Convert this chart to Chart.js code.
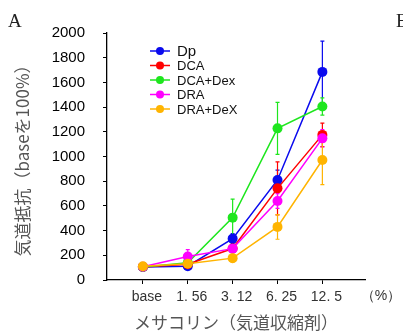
<!DOCTYPE html>
<html>
<head>
<meta charset="utf-8">
<script src="https://cdn.jsdelivr.net/npm/chart.js@4/dist/chart.umd.min.js"></script>
<style>
  html, body { margin: 0; padding: 0; background: #fff; }
  #wrap { width: 403px; height: 331px; position: relative; }
</style>
</head>
<body>
<div id="wrap"><canvas id="myChart"></canvas></div>
<script>
// x categories (methacholine %)
var doses = ["base", "1. 56", "3. 12", "6. 25", "12. 5"];
var seriesNames = ["Dp", "DCA", "DCA+Dex", "DRA", "DRA+DeX"];
var seriesColors = ["#0a0aee", "#ff0000", "#1ee61e", "#ff00ff", "#ffb400"];

// airway resistance (base = 100%)
var dpValues = [105, 112, 335, 810, 1685];
var dcaValues = [105, 128, 255, 742, 1175];
var dcaDexValues = [105, 140, 505, 1228, 1405];
var draValues = [108, 191, 254, 640, 1147];
var draDexValues = [112, 132, 177, 430, 972];

// error bar half lengths
var dpErr = [10, 15, 40, 80, 250];
var dcaErr = [10, 15, 30, 215, 95];
var dcaDexErr = [10, 20, 150, 210, 70];
var draErr = [15, 55, 30, 60, 70];
var draDexErr = [15, 15, 30, 100, 200];

var yTicks = [0, 200, 400, 600, 800, 1000, 1200, 1400, 1600, 1800, 2000];

var allValues = [dpValues, dcaValues, dcaDexValues, draValues, draDexValues];
var allErrs = [dpErr, dcaErr, dcaDexErr, draErr, draDexErr];

function toPoints(vals) {
    return vals.map(function (v, i) { return { x: i, y: v }; });
}

var datasets = [];
for (var i = 0; i < seriesNames.length; i++) {
    datasets.push({
        label: seriesNames[i],
        data: toPoints(allValues[i]),
        errors: allErrs[i],
        borderColor: seriesColors[i],
        backgroundColor: seriesColors[i],
        borderWidth: 1.5,
        pointRadius: 5,
        pointBorderWidth: 0,
        pointHoverRadius: 5,
        tension: 0,
        order: seriesNames.length - i
    });
}

// vertical error bars, behind the lines
var errorBars = {
    id: 'errorBars',
    beforeDatasetsDraw: function (chart) {
        var ctx = chart.ctx;
        var xs = chart.scales.x, ys = chart.scales.y;
        ctx.save();
        chart.data.datasets.forEach(function (ds) {
            ctx.strokeStyle = ds.borderColor;
            ctx.lineWidth = 1.2;
            ds.data.forEach(function (p, j) {
                var e = ds.errors[j];
                var px = xs.getPixelForValue(p.x);
                var top = ys.getPixelForValue(p.y + e);
                var bot = ys.getPixelForValue(p.y - e);
                ctx.beginPath();
                ctx.moveTo(px, top); ctx.lineTo(px, bot);
                ctx.moveTo(px - 2, top); ctx.lineTo(px + 2, top);
                ctx.moveTo(px - 2, bot); ctx.lineTo(px + 2, bot);
                ctx.stroke();
            });
        });
        ctx.restore();
    }
};

// legend inside plot + panel letters + unit
var extras = {
    id: 'extras',
    afterDraw: function (chart) {
        var ctx = chart.ctx;
        ctx.save();
        var lx = 150, ly = 51, step = 14.5;
        chart.data.datasets.forEach(function (ds, k) {
            var y = ly + k * step;
            ctx.strokeStyle = ds.borderColor;
            ctx.fillStyle = ds.borderColor;
            ctx.lineWidth = 1.5;
            ctx.beginPath();
            ctx.moveTo(lx, y); ctx.lineTo(lx + 20, y);
            ctx.stroke();
            ctx.beginPath();
            ctx.arc(lx + 10, y, 4, 0, Math.PI * 2);
            ctx.fill();
            ctx.fillStyle = '#111';
            ctx.font = (k === 0 ? '15px' : '13px') + ' "Liberation Sans", Arial, sans-serif';
            ctx.textBaseline = 'middle';
            ctx.textAlign = 'left';
            ctx.fillText(ds.label, lx + 27, y + 1);
        });
        ctx.fillStyle = '#222';
        ctx.font = '19px "Liberation Serif", serif';
        ctx.textBaseline = 'middle';
        ctx.fillText('A', 8, 22);
        ctx.fillText('E', 396, 22);
        ctx.fillStyle = '#333';
        ctx.font = '14px "Liberation Sans", Arial, sans-serif';
        ctx.textAlign = 'center';
        ctx.fillText('（%）', 381, 296);
        ctx.restore();
    }
};

new Chart("myChart", {
    type: "line",
    data: { datasets: datasets },
    plugins: [errorBars, extras],
    options: {
        responsive: true,
        maintainAspectRatio: false,
        animation: false,
        layout: { padding: { top: 33, right: 38, left: 0, bottom: 0 } },
        plugins: {
            legend: { display: false },
            tooltip: { enabled: false }
        },
        scales: {
            x: {
                type: 'linear',
                min: -0.8,
                max: 4.95,
                afterFit: function (scale) { scale.height = 51; },
                afterBuildTicks: function (scale) {
                    scale.ticks = doses.map(function (d, i) { return { value: i }; });
                },
                ticks: {
                    padding: 5,
                    labelOffset: 4,
                    color: '#333',
                    font: { size: 14, family: '"Liberation Sans", Arial, sans-serif' },
                    maxRotation: 0,
                    callback: function (v) { return doses[v]; }
                },
                grid: { drawOnChartArea: false, tickLength: 4, color: '#000' },
                border: { color: '#000', width: 1.3 },
                title: {
                    display: true,
                    text: 'メサコリン（気道収縮剤）',
                    color: '#555',
                    font: { size: 17, family: '"Noto Sans CJK JP", sans-serif', lineHeight: 1 },
                    padding: 0
                }
            },
            y: {
                min: 0,
                max: 2000,
                afterFit: function (scale) { scale.width = 107; },
                afterBuildTicks: function (scale) {
                    var t = [];
                    for (var v = 0; v <= 2000; v += 100) t.push({ value: v });
                    scale.ticks = t;
                },
                ticks: {
                    padding: 18,
                    color: '#000',
                    font: { size: 15, family: '"Liberation Sans", Arial, sans-serif' },
                    callback: function (v) { return yTicks.indexOf(v) >= 0 ? v : ''; }
                },
                grid: { drawOnChartArea: false, tickLength: 4, color: '#000' },
                border: { color: '#000', width: 1.3 },
                title: {
                    display: true,
                    text: '気道抵抗（baseを100%）',
                    color: '#555',
                    font: { size: 17, family: '"Noto Sans CJK JP", sans-serif', lineHeight: 1.2 },
                    padding: { top: 12 }
                }
            }
        }
    }
});
</script>
</body>
</html>
